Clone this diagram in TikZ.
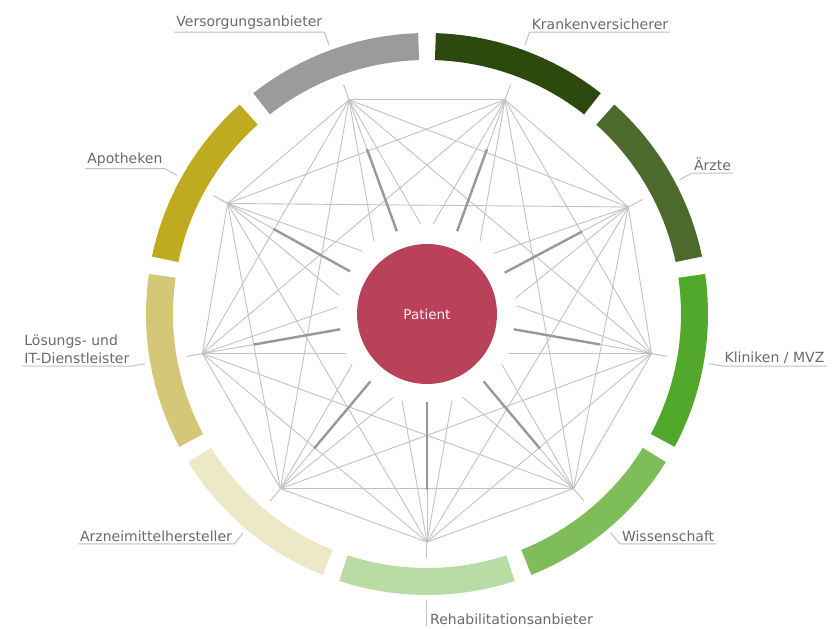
\documentclass[tikz,border=0pt]{standalone}
\usepackage{fontspec}
\setmainfont{DejaVu Sans}
\usetikzlibrary{calc}

\definecolor{vsgray}{HTML}{9B9B9B}
\definecolor{kvgreen}{HTML}{2C4A0E}
\definecolor{aegreen}{HTML}{4C6A2C}
\definecolor{klgreen}{HTML}{52A82A}
\definecolor{wigreen}{HTML}{7FBD5A}
\definecolor{regreen}{HTML}{B9DCA4}
\definecolor{amcream}{HTML}{EDE8C6}
\definecolor{itkhaki}{HTML}{D4C878}
\definecolor{apmustard}{HTML}{C0AA20}
\definecolor{patred}{HTML}{B9415A}
\definecolor{lbltext}{HTML}{6A6A6A}
\definecolor{netline}{HTML}{C2C2C2}
\definecolor{spokeline}{HTML}{999999}

\tikzset{
  net/.style={draw=netline, line width=0.9pt},
  spoke/.style={draw=spokeline, line width=2.4pt},
  leader/.style={draw=netline, line width=1pt},
  lbl/.style={font=\fontsize{14}{18}\selectfont, text=lbltext, inner sep=2pt}
}

\begin{document}
\begin{tikzpicture}[x=1pt, y=1pt]

    \useasboundingbox (-427,-315) rectangle (409,314);
    \coordinate (centre) at (0,0);

    % partners on the inner circle
    \foreach \a [count=\i] in {110,70,28,-10,-50,-90,-130,190,151}
        \coordinate (h\i) at (\a:228);

    % everyone linked with everyone
    \foreach \i in {1,...,8} {
        \pgfmathtruncatemacro\k{\i+1}
        \foreach \j in {\k,...,9}
            \draw[net] (h\i) -- (h\j);
    }
    \foreach \i in {1,...,9}
        \draw[net] (h\i) -- (centre);

    % free space round the patient
    \fill[white] (centre) circle (90);

    % heavy spokes towards the patient
    \foreach \i in {1,...,9}
        \draw[spoke] ($(centre)!0.386!(h\i)$) -- ($(centre)!0.77!(h\i)$);

    % patient
    \node[circle, fill=patred, minimum size=140pt, text=white!92!patred,
          font=\fontsize{13.5}{16}\selectfont] (patient) at (centre) {Patient};

    % outer ring
    \foreach \c/\col in {110/vsgray, 70/kvgreen, 30/aegreen, -10/klgreen, -50/wigreen,
                         -90/regreen, -130/amcream, -170/itkhaki, 150/apmustard}
        \fill[\col] (\c+18.2:254) arc[start angle=\c+18.2, end angle=\c-18.2, radius=254]
            -- (\c-18.2:281) arc[start angle=\c-18.2, end angle=\c+18.2, radius=281] -- cycle;

    % leader lines
    \foreach \a [count=\i] in {110,70,28,-10,-50,-90,-130,190,151} {
        \draw[leader] (h\i) -- (\a:244);
        \coordinate (e\i) at (\a:286);
        \coordinate (k\i) at (\a:300);
    }

    % labels
    \node[lbl, anchor=south east] (l1) at (k1) {Versorgungsanbieter};
    \node[lbl, anchor=south west] (l2) at (k2) {Krankenversicherer};
    \node[lbl, anchor=south west] (l3) at (k3) {Ärzte};
    \node[lbl, anchor=south west] (l4) at (k4) {Kliniken / MVZ};
    \node[lbl, anchor=south west] (l5) at (k5) {Wissenschaft};
    \node[lbl, anchor=base west] (l6) at (1,-310) {Rehabilitationsanbieter};
    \node[lbl, anchor=south east] (l7) at (k7) {Arzneimittelhersteller};
    \node[lbl, anchor=south east, align=left] (l8) at (k8) {Lösungs- und\\IT-Dienstleister};
    \node[lbl, anchor=south east] (l9) at (k9) {Apotheken};

    \draw[leader] (e1) -- (k1) -- (l1.south west);
    \draw[leader] (e2) -- (k2) -- (l2.south east);
    \draw[leader] (e3) -- (k3) -- (l3.south east);
    \draw[leader] (e4) -- (k4) -- (l4.south east);
    \draw[leader] (e5) -- (k5) -- (l5.south east);
    \draw[leader] (e6) -- (e6 |- l6.south);
    \draw[leader] (e7) -- (k7) -- (l7.south west);
    \draw[leader] (e8) -- (k8) -- (l8.south west);
    \draw[leader] (e9) -- (k9) -- (l9.south west);

\end{tikzpicture}
\end{document}
